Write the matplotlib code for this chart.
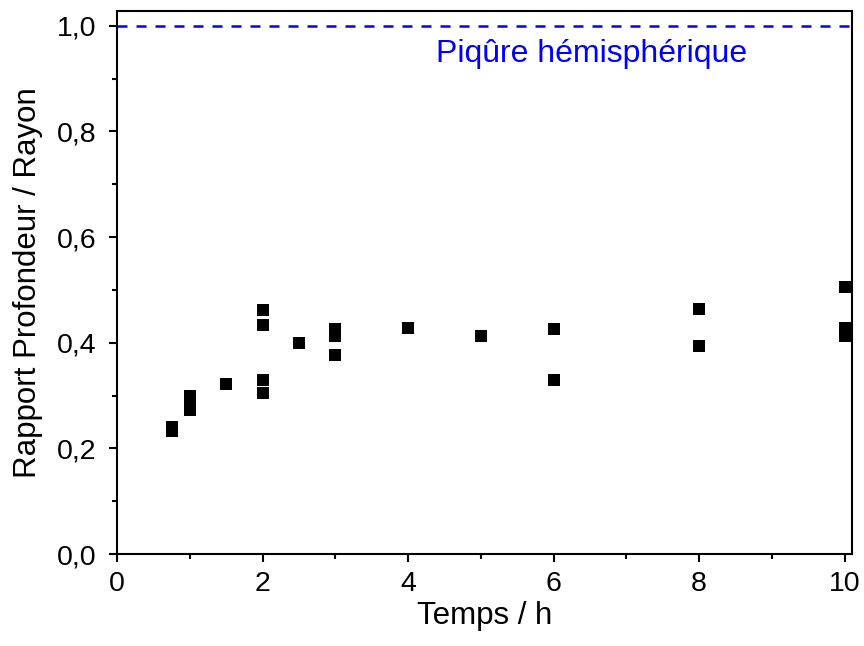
import matplotlib
matplotlib.use("Agg")
import matplotlib.pyplot as plt
from matplotlib.ticker import MultipleLocator, FuncFormatter

plt.rcParams['font.family'] = ['Liberation Sans', 'DejaVu Sans']

temps = [0.75, 0.75, 1, 1, 1, 1.5, 2, 2, 2, 2, 2.5, 3, 3, 3, 4, 5, 6, 6, 8, 8, 10, 10, 10]
rapport = [0.241, 0.232, 0.300, 0.287, 0.273, 0.321, 0.462, 0.433, 0.330, 0.304,
           0.399, 0.426, 0.413, 0.376, 0.427, 0.412, 0.426, 0.330, 0.464, 0.393,
           0.506, 0.427, 0.412]
ref_level = 1.0
ref_label = "Piqûre hémisphérique"
xlabel = "Temps / h"
ylabel = "Rapport Profondeur / Rayon"

fig = plt.figure(figsize=(8.64, 6.46), dpi=100)
ax = fig.add_axes([0.1354, 0.1424, 0.9861 - 0.1354, 0.983 - 0.1424])

ax.plot(temps, rapport, 's', color='black', markersize=8.6, markeredgewidth=0, clip_on=False, zorder=3)
ax.axhline(ref_level, color='#0000ff', linestyle=(0, (4.0, 3.6)), linewidth=1.8)
ax.text(6.52, 0.947, ref_label, color='#0000ff', fontsize=23, ha='center', va='center')

ax.set_xlim(0, 10.1)
ax.set_ylim(0, 1.028)
ax.xaxis.set_major_locator(MultipleLocator(2))
ax.xaxis.set_minor_locator(MultipleLocator(1))
ax.yaxis.set_major_locator(MultipleLocator(0.2))
ax.yaxis.set_minor_locator(MultipleLocator(0.1))
ax.yaxis.set_major_formatter(FuncFormatter(lambda v, p: f"{v:.1f}".replace('.', ',')))
ax.xaxis.set_major_formatter(FuncFormatter(lambda v, p: f"{v:.0f}"))

for s in ax.spines.values():
    s.set_linewidth(1.5)
ax.tick_params(which='major', direction='out', length=6, width=1.5, labelsize=20.5, pad=6)
ax.tick_params(which='minor', direction='out', length=3.5, width=1.5)
ax.tick_params(axis='y', which='major', pad=9)

ax.set_xlabel(xlabel, fontsize=22.5, labelpad=3)
ax.set_ylabel(ylabel, fontsize=22.5, labelpad=10)

fig.savefig("out.png", dpi=100)
